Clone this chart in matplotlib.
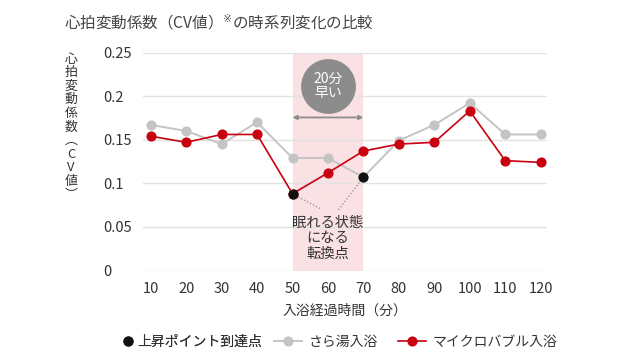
#!/usr/bin/env python3

import matplotlib
matplotlib.use('Agg')
import matplotlib.pyplot as plt

plt.rcParams['font.family'] = ['Noto Sans CJK JP', 'DejaVu Sans']

# data
minutes = [10, 20, 30, 40, 50, 60, 70, 80, 90, 100, 110, 120]
sarayu = [0.167, 0.160, 0.145, 0.170, 0.129, 0.129, 0.107, 0.149, 0.167, 0.192, 0.156, 0.156]
microbubble = [0.154, 0.147, 0.156, 0.156, 0.088, 0.112, 0.137, 0.145, 0.147, 0.183, 0.126, 0.124]
rise_micro_idx = 4	# 50 min, micro bubble
rise_sarayu_idx = 6	# 70 min, plain bath
yticks = [0, 0.05, 0.1, 0.15, 0.2, 0.25]
ytick_labels = ["0", "0.05", "0.1", "0.15", "0.2", "0.25"]
shade_span = (50, 70)

title = "心拍変動係数（CV値）$^{※}$の時系列変化の比較"
ylabel_chars = ["心", "拍", "変", "動", "係", "数", "︵", "C", "V", "値", "︶"]
xlabel = "入浴経過時間（分）"
legend_labels = ["上昇ポイント到達点", "さら湯入浴", "マイクロバブル入浴"]

TEXT = "#333333"
GRAY = "#c4c4c4"
RED = "#c8000f"
BLACK = "#111111"


def plot(out_file):
	fig = plt.figure(figsize=(6.4, 3.6), dpi=100)
	ax = fig.add_axes([143.3 / 640, 1 - 270.5 / 360, 403.7 / 640, 218 / 360])

	ax.axvspan(*shade_span, color="#f9e1e4", zorder=0, lw=0)
	for y in yticks:
		ax.axhline(y, color="#e2e2e2", lw=1, zorder=0.5)

	g, = ax.plot(minutes, sarayu, color=GRAY, lw=1.4, marker='o', ms=6.3, zorder=2)
	r, = ax.plot(minutes, microbubble, color=RED, lw=1.2, marker='o', ms=6.3, zorder=3)
	pts_x = [minutes[rise_micro_idx], minutes[rise_sarayu_idx]]
	pts_y = [microbubble[rise_micro_idx], sarayu[rise_sarayu_idx]]
	b, = ax.plot(pts_x, pts_y, ls='none', marker='o', ms=6.3, color=BLACK, zorder=4)

	# badge + arrow
	mid = sum(shade_span) / 2
	ax.plot([mid], [0.212], marker='o', ms=39.5, color="#8c8c8c", mec="none", zorder=3)
	ax.text(mid, 0.2115, "20分\n早い", color="white", fontsize=10, ha='center', va='center',
		linespacing=1.0, zorder=4)
	ax.annotate("", xy=(shade_span[0], 0.1755), xytext=(shade_span[1], 0.1755),
		arrowprops=dict(arrowstyle='<|-|>', color="#8c8c8c", lw=1.3,
			mutation_scale=6, shrinkA=0, shrinkB=0), zorder=3)

	# turning point note
	ax.text(mid, 0.037, "眠れる状態\nになる\n転換点", color=TEXT, fontsize=10.3,
		ha='center', va='center', linespacing=1.12, zorder=4)
	ax.plot([pts_x[0], 57.8], [pts_y[0], 0.071], ls=':', color="#8a8a8a", lw=0.9, zorder=3)
	ax.plot([pts_x[1], 62.9], [pts_y[1], 0.069], ls=':', color="#8a8a8a", lw=0.9, zorder=3)

	ax.set_xlim(7.9, 121.8)
	ax.set_ylim(0, 0.25)
	ax.set_xticks(minutes)
	ax.set_xticklabels([str(m) for m in minutes])
	ax.set_yticks(yticks)
	ax.set_yticklabels(ytick_labels, ha='left')
	ax.tick_params(axis='y', length=0, pad=28.8, labelsize=10.5, labelcolor=TEXT)
	ax.tick_params(axis='x', length=0, pad=8, labelsize=10.5, labelcolor=TEXT)
	for s in ax.spines.values():
		s.set_visible(False)
	ax.patch.set_alpha(0)

	ax.set_xlabel(xlabel, fontsize=10, color=TEXT, labelpad=6)

	# vertical y label, one glyph per row
	for i, ch in enumerate(ylabel_chars):
		fig.text(71 / 640, 1 - (59 + i * 13.6) / 360, ch, fontsize=9.3, color=TEXT,
			ha='center', va='center')

	fig.text(64 / 640, 1 - 22.5 / 360, title, fontsize=11.2, color="#444444",
		ha='left', va='center')

	# legend in two parts: the point-only entry sits tight to its text
	leg_y = 1 - 342 / 360
	common = dict(frameon=False, fontsize=10, labelcolor=TEXT, borderpad=0,
		borderaxespad=0, loc='center left')
	leg1 = fig.legend([b], legend_labels[:1], bbox_to_anchor=(122.5 / 640, leg_y),
		handlelength=0.72, handletextpad=0.35, **common)
	fig.add_artist(leg1)
	fig.legend([g, r], legend_labels[1:], bbox_to_anchor=(274 / 640, leg_y), ncol=2,
		handlelength=2.0, handletextpad=0.5, columnspacing=1.45, **common)

	fig.savefig(out_file, dpi=100)
	plt.close(fig)


if __name__ == "__main__":
	plot("out.png")
